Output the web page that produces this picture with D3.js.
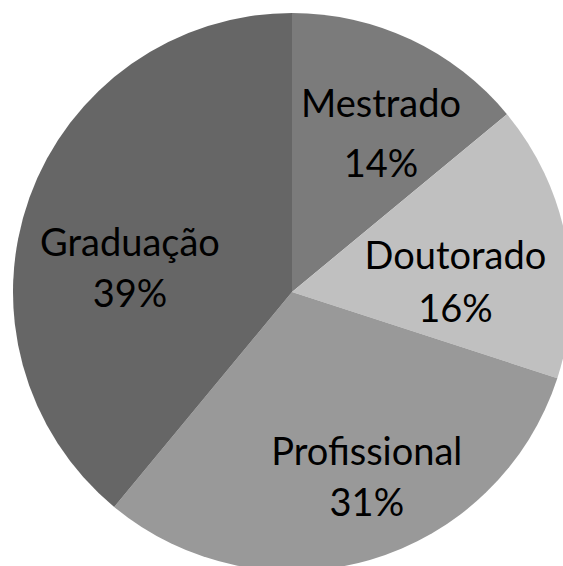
<!DOCTYPE html>
<html>
<head>
<meta charset="utf-8">
<script src="https://cdn.jsdelivr.net/npm/d3@7"></script>
<style>
  html, body { margin: 0; padding: 0; background: #fff; }
  svg { display: block; }
  .slice-label { font-family: Lato, "Open Sans", sans-serif; font-size: 38px; fill: #000; }
</style>
</head>
<body>
<div id="chart"></div>
<script>
// data, clockwise from 12 o'clock
const categories = ["Mestrado", "Doutorado", "Profissional", "Graduação"];
const shares = [14, 16, 31, 39];

// slice fills and label placement (layout only): [dx, dy, line gap]
const fills = ["#7b7b7b", "#c0c0c0", "#999999", "#666666"];
const labelNudge = [[13, -13, 60], [-12, 10, 53], [25, 2, 51], [6, 24, 51]];

const width = 563, height = 566;
const cx = 292, cy = 292, radius = 279;

const svg = d3.select("#chart").append("svg")
    .attr("width", width)
    .attr("height", height);

const g = svg.append("g")
    .attr("transform", "translate(" + cx + "," + cy + ")");

const pie = d3.pie().sort(null).value(d => d.value);
const arcs = pie(categories.map((c, i) => ({ name: c, value: shares[i], i: i })));

const arc = d3.arc().innerRadius(0).outerRadius(radius);
const labelArc = d3.arc().innerRadius(radius * 0.64).outerRadius(radius * 0.64);

g.selectAll("path")
    .data(arcs)
    .join("path")
    .attr("d", arc)
    .attr("fill", d => fills[d.data.i])
    .attr("stroke", "none");

const labels = g.selectAll("text")
    .data(arcs)
    .join("text")
    .attr("class", "slice-label")
    .attr("text-anchor", "middle")
    .attr("transform", d => {
        const c = labelArc.centroid(d);
        const n = labelNudge[d.data.i];
        return "translate(" + (c[0] + n[0]) + "," + (c[1] + n[1]) + ")";
    });

labels.append("tspan")
    .attr("x", 0)
    .attr("y", 0)
    .text(d => d.data.name);

labels.append("tspan")
    .attr("x", 0)
    .attr("y", d => labelNudge[d.data.i][2])
    .text(d => d.data.value + "%");
</script>
</body>
</html>
